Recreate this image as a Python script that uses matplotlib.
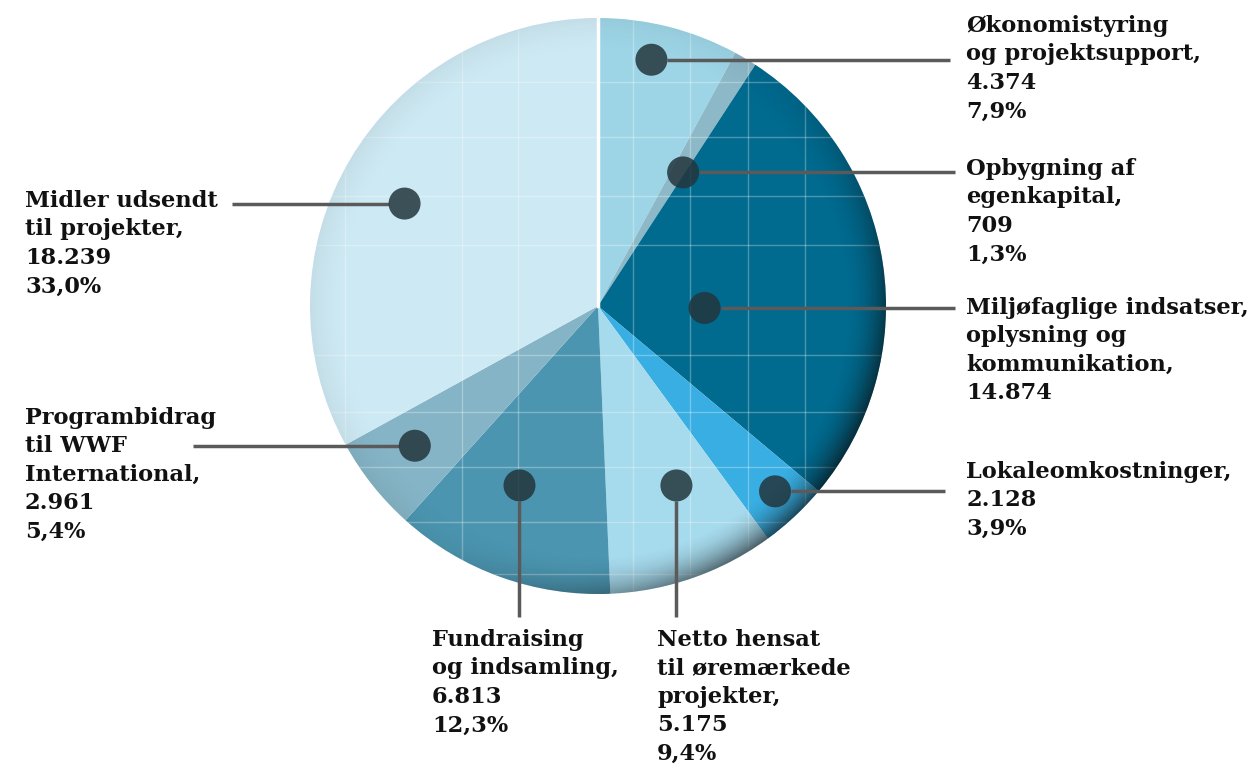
import numpy as np
import matplotlib.pyplot as plt
from matplotlib.patches import Circle

W, H = 1255, 773

labels = ["Økonomistyring\nog projektsupport,\n4.374\n7,9%",
          "Opbygning af\negenkapital,\n709\n1,3%",
          "Miljøfaglige indsatser,\noplysning og\nkommunikation,\n14.874",
          "Lokaleomkostninger,\n2.128\n3,9%",
          "Netto hensat\ntil øremærkede\nprojekter,\n5.175\n9,4%",
          "Fundraising\nog indsamling,\n6.813\n12,3%",
          "Programbidrag\ntil WWF\nInternational,\n2.961\n5,4%",
          "Midler udsendt\ntil projekter,\n18.239\n33,0%"]
values = [4374, 709, 14874, 2128, 5175, 6813, 2961, 18239]
colors = ["#9dd5e6", "#8db8c7", "#006a8f", "#38aee2",
          "#a6daed", "#4b95b0", "#84b4c6", "#cde9f3"]

# layout: anchor radius fraction + angle offset (deg), label top-left (px), connector end
anchor = [(0.875, 2.0), (0.55, -1.7), (0.37, -9.5), (0.89, 0.6),
          (0.68, 4.3), (0.68, -3.9), (0.80, -1.1), (0.76, 2.7)]
text_pos = [(966, 15), (966, 158), (966, 297), (966, 461),
            (657, 629), (432, 629), (25, 407), (25, 190)]
line_end = [(950, None), (955, None), (955, None), (945, None),
            (None, 617), (None, 617), (193, None), (232, None)]

cx, cy, R = 598, 306, 288
dot_r = 16

fig = plt.figure(figsize=(W / 100, H / 100), dpi=100)
ax = fig.add_axes([0, 0, 1, 1])

wedges, _ = ax.pie(values, colors=colors, startangle=90, counterclock=False,
                   center=(cx, H - cy), radius=R,
                   wedgeprops=dict(linewidth=0))
ax.set_xlim(0, W)
ax.set_ylim(0, H)
ax.set_aspect('equal')
ax.axis('off')

clip = Circle((cx, H - cy), R, transform=ax.transData)

# faint tile grid on the pie
for gx in [345, 462, 518, 633, 690, 748, 805]:
    l, = ax.plot([gx, gx], [0, H], color='white', lw=1, alpha=0.3, zorder=3)
    l.set_clip_path(clip)
for gy in [82, 137, 196, 245, 355, 412, 467, 522, 574]:
    l, = ax.plot([0, W], [H - gy, H - gy], color='white', lw=1, alpha=0.3, zorder=3)
    l.set_clip_path(clip)

# rim shading, strongest lower right
n = 600
xs = np.linspace(cx - R, cx + R, n)
ys = np.linspace(H - cy - R, H - cy + R, n)
X, Y = np.meshgrid(xs, ys)
rr = np.hypot(X - cx, Y - (H - cy)) / R
phi = np.arctan2(Y - (H - cy), X - cx)
ring = np.clip((rr - 0.86) / 0.14, 0, 1) ** 2
direc = 0.08 + 0.92 * np.clip(np.cos(phi - np.radians(-35)), 0, 1) ** 1.5
img = np.zeros((n, n, 4))
img[..., :3] = 0.05
img[..., 3] = 0.65 * ring * direc
im = ax.imshow(img, extent=(cx - R, cx + R, H - cy - R, H - cy + R),
               origin='lower', zorder=4, interpolation='bilinear')
im.set_clip_path(clip)

# white gap at the start
ax.plot([cx, cx], [H - cy, H - cy + R], color='white', lw=2.5, zorder=5)

for w, lab, (rf, off), (tx, ty), (ex, ey) in zip(wedges, labels, anchor, text_pos, line_end):
    mid = np.radians((w.theta1 + w.theta2) / 2 + off)
    dx = cx + rf * R * np.cos(mid)
    dy = H - cy + rf * R * np.sin(mid)
    if ex is not None:
        sx = dx + dot_r * np.sign(ex - dx)
        ax.plot([sx, ex], [dy, dy], color='#5a5a5a', lw=2.5, zorder=6,
                solid_capstyle='butt')
    else:
        ax.plot([dx, dx], [dy - dot_r, H - ey], color='#5a5a5a', lw=2.5, zorder=6,
                solid_capstyle='butt')
    ax.add_patch(Circle((dx, dy), dot_r, color='#23353c', alpha=0.85, lw=0, zorder=7))
    ax.text(tx, H - ty, lab, ha='left', va='top', fontsize=16.2,
            family='DejaVu Serif', fontweight='bold', color='#111111',
            linespacing=1.38, zorder=8)

fig.savefig('out.png', dpi=100)
